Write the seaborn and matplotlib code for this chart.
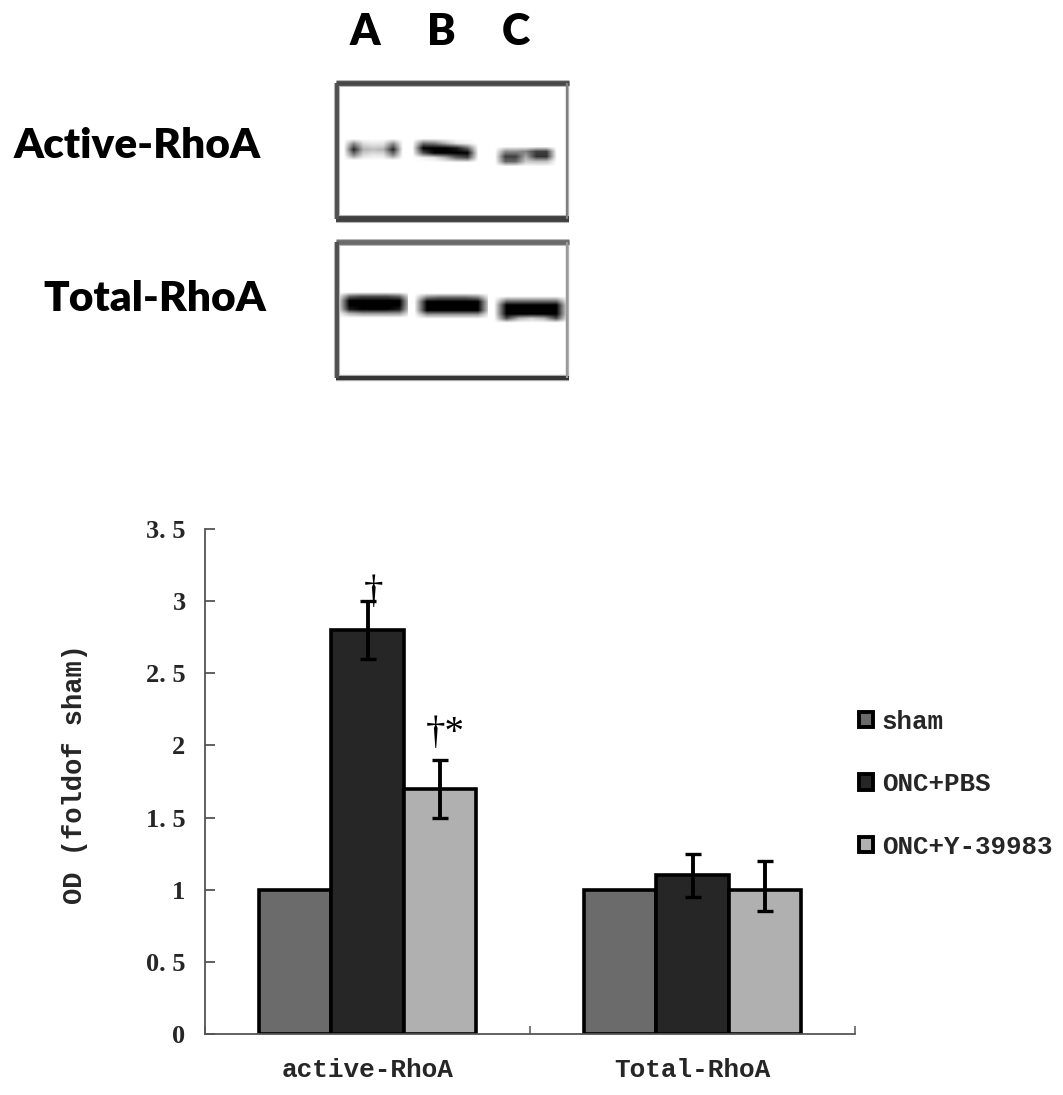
import numpy as np
import pandas as pd
import matplotlib
matplotlib.use('Agg')
import matplotlib.pyplot as plt
import seaborn as sns

# ── data ─────────────────────────────────────────────────────
groups = ['active-RhoA', 'Total-RhoA']
treatments = ['sham', 'ONC+PBS', 'ONC+Y-39983']
sham = [1.0, 1.0]
onc_pbs = [2.8, 1.1]
onc_y = [1.7, 1.0]
pbs_low, pbs_high = [2.6, 0.95], [3.0, 1.25]
y_low, y_high = [1.5, 0.85], [1.9, 1.2]
yticks = [0, 0.5, 1, 1.5, 2, 2.5, 3, 3.5]
ytick_labels = ['0', '0. 5', '1', '1. 5', '2', '2. 5', '3', '3. 5']
colors = ['#6b6b6b', '#262626', '#b0b0b0']

lanes = ['A', 'B', 'C']
blot_rows = ['Active-RhoA', 'Total-RhoA']

active_a = [[0.50, 0.15, 0.10, 0.12, 0.50],
            [0.85, 0.30, 0.25, 0.30, 0.85],
            [0.50, 0.15, 0.10, 0.12, 0.50]]
active_b = [[0.55, 0.50, 0.30, 0.10, 0.05],
            [1.00, 1.00, 1.00, 0.90, 0.60],
            [0.70, 1.00, 1.00, 1.00, 1.00],
            [0.05, 0.10, 0.30, 0.60, 0.70]]
active_c = [[0.45, 0.45, 0.50, 0.75, 0.75],
            [0.75, 0.75, 0.35, 0.80, 0.80],
            [0.60, 0.60, 0.20, 0.25, 0.25]]
total_a = [[0.60, 0.70, 0.70, 0.70, 0.60],
           [1.00, 1.00, 1.00, 1.00, 1.00],
           [1.00, 1.00, 1.00, 1.00, 1.00],
           [0.90, 1.00, 1.00, 1.00, 0.90],
           [0.30, 0.40, 0.40, 0.40, 0.40]]
total_b = [[0.50, 0.60, 0.60, 0.60, 0.50],
           [1.00, 1.00, 1.00, 1.00, 1.00],
           [1.00, 1.00, 1.00, 1.00, 1.00],
           [1.00, 1.00, 1.00, 1.00, 1.00],
           [0.40, 0.40, 0.40, 0.40, 0.40]]
total_c = [[0.50, 0.50, 0.50, 0.50, 0.50],
           [1.00, 1.00, 1.00, 1.00, 1.00],
           [1.00, 1.00, 1.00, 1.00, 1.00],
           [1.00, 1.00, 1.00, 1.00, 1.00],
           [0.70, 0.30, 0.20, 0.30, 0.70]]

W, H = 1063, 1095
mono = 'Liberation Mono'
serif = 'Liberation Serif'
sans = 'Lato'

sns.set_style('white')
fig = plt.figure(figsize=(W / 100, H / 100), dpi=100)

# ── blots, drawn on an overlay in pixel coordinates ──────────
top = fig.add_axes([0, 0, 1, 1])
top.axis('off')

def draw_band(grid, x0, x1, y0, y1):
    img = np.pad(np.array(grid), 1)
    dx = (x1 - x0) / (img.shape[1] - 2)
    dy = (y1 - y0) / (img.shape[0] - 2)
    top.imshow(img, extent=(x0 - dx, x1 + dx, y1 + dy, y0 - dy), cmap='gray_r', vmin=0, vmax=1,
               interpolation='bilinear', aspect='auto', zorder=2)

def draw_frame(y0, y1, top_c, bottom_c, side_c, lw_top, lw_bottom):
    for color, extra in [('#b5b5b5', 1.6), (None, 0)]:
        top.plot([336, 569], [y0, y0], color=color or top_c, lw=lw_top + extra, zorder=3, solid_capstyle='butt')
        top.plot([336, 569], [y1, y1], color=color or bottom_c, lw=lw_bottom + extra, zorder=3, solid_capstyle='butt')
        top.plot([337, 337], [y0, y1], color=color or '#505050', lw=2.8 + extra, zorder=3, solid_capstyle='butt')
        top.plot([567, 567], [y0, y1], color=color or side_c, lw=1.6 + extra * 0.5, zorder=3, solid_capstyle='butt')

draw_frame(83, 219, '#484848', '#404040', '#808080', 3.4, 4.2)
draw_frame(242, 378, '#6a6a6a', '#343434', '#9a9a9a', 3.4, 3.0)

draw_band(active_a, 349, 398, 142, 158)
draw_band(active_b, 418, 473, 141, 160)
draw_band(active_c, 500, 551, 149, 164)
draw_band(total_a, 343, 405, 295, 316)
draw_band(total_b, 421, 484, 296, 317)
draw_band(total_c, 500, 562, 299, 321)
top.set_xlim(0, W)
top.set_ylim(H, 0)

for name, x in zip(lanes, [365, 441, 516]):
    top.text(x, 32, name, family=sans, weight='heavy', fontsize=31, color='black', ha='center', va='center')
top.text(137, 146, blot_rows[0], family=sans, weight='heavy', fontsize=30.5, color='black', ha='center', va='center')
top.text(155, 299, blot_rows[1], family=sans, weight='heavy', fontsize=30.5, color='black', ha='center', va='center')

# ── bar chart ────────────────────────────────────────────────
df = pd.DataFrame({
    'group': groups * 3,
    'treatment': np.repeat(treatments, 2),
    'value': sham + onc_pbs + onc_y,
})

ax = fig.add_axes([205 / W, (H - 1034) / H, 650 / W, 505 / H])
ax.patch.set_alpha(0)
sns.barplot(data=df, x='group', y='value', hue='treatment', hue_order=treatments, palette=colors,
            saturation=1, width=0.67, gap=0, errorbar=None, edgecolor='black', linewidth=2.6, ax=ax)

# error bars sit on the drawn bars, sham has none
for bars, vals, low, high in zip(ax.containers[1:], [onc_pbs, onc_y], [pbs_low, y_low], [pbs_high, y_high]):
    xs = [b.get_x() + b.get_width() / 2 for b in bars]
    lower = np.array(vals) - np.array(low)
    upper = np.array(high) - np.array(vals)
    ax.errorbar(xs, vals, yerr=[lower, upper], fmt='none', ecolor='black', elinewidth=2.8,
                capsize=5.8, capthick=2.4, zorder=5)

pbs_x = ax.containers[1][0].get_x() + ax.containers[1][0].get_width() / 2
y_x = ax.containers[2][0].get_x() + ax.containers[2][0].get_width() / 2
ax.annotate('†', (pbs_x, pbs_high[0]), xytext=(4, -7), textcoords='offset points', ha='center', va='bottom',
            family=serif, fontsize=28, color='black', zorder=6)
ax.annotate('†*', (y_x, y_high[0]), xytext=(4, 6), textcoords='offset points', ha='center', va='bottom',
            family=serif, fontsize=28, color='black', zorder=6)

ax.set_xlim(-0.5, 1.5)
ax.set_ylim(0, 3.5)
ax.set_yticks(yticks)
ax.set_yticklabels(ytick_labels, family=serif, weight='bold', fontsize=19)
ax.set_xticks([0, 1])
ax.set_xticklabels(groups, family=mono, weight='bold', fontsize=18.8)
ax.set_xticks([-0.5, 0.5, 1.5], minor=True)
ax.tick_params(axis='x', which='major', length=0, pad=17)
ax.tick_params(axis='x', which='minor', direction='in', length=6, width=1.1, color='#555555', bottom=True)
ax.tick_params(axis='y', direction='in', length=7, width=1.3, color='#555555', left=True, pad=14)
ax.set_xlabel('')
ax.set_ylabel('OD (foldof sham)', family=mono, weight='bold', fontsize=19.5, labelpad=42, y=0.515)
sns.despine(ax=ax)
for side in ['left', 'bottom']:
    ax.spines[side].set_color('#555555')
    ax.spines[side].set_linewidth(1.3)

leg = ax.legend(loc='upper left', bbox_to_anchor=(1.006, 0.642), frameon=False,
                handlelength=0.54, handleheight=0.54, handletextpad=0.35, labelspacing=1.49,
                borderaxespad=0, borderpad=0, prop={'family': mono, 'weight': 'bold', 'size': 18.6})
for handle in leg.legend_handles:
    handle.set_linewidth(2.8)

plt.savefig('out.png', dpi=100)
